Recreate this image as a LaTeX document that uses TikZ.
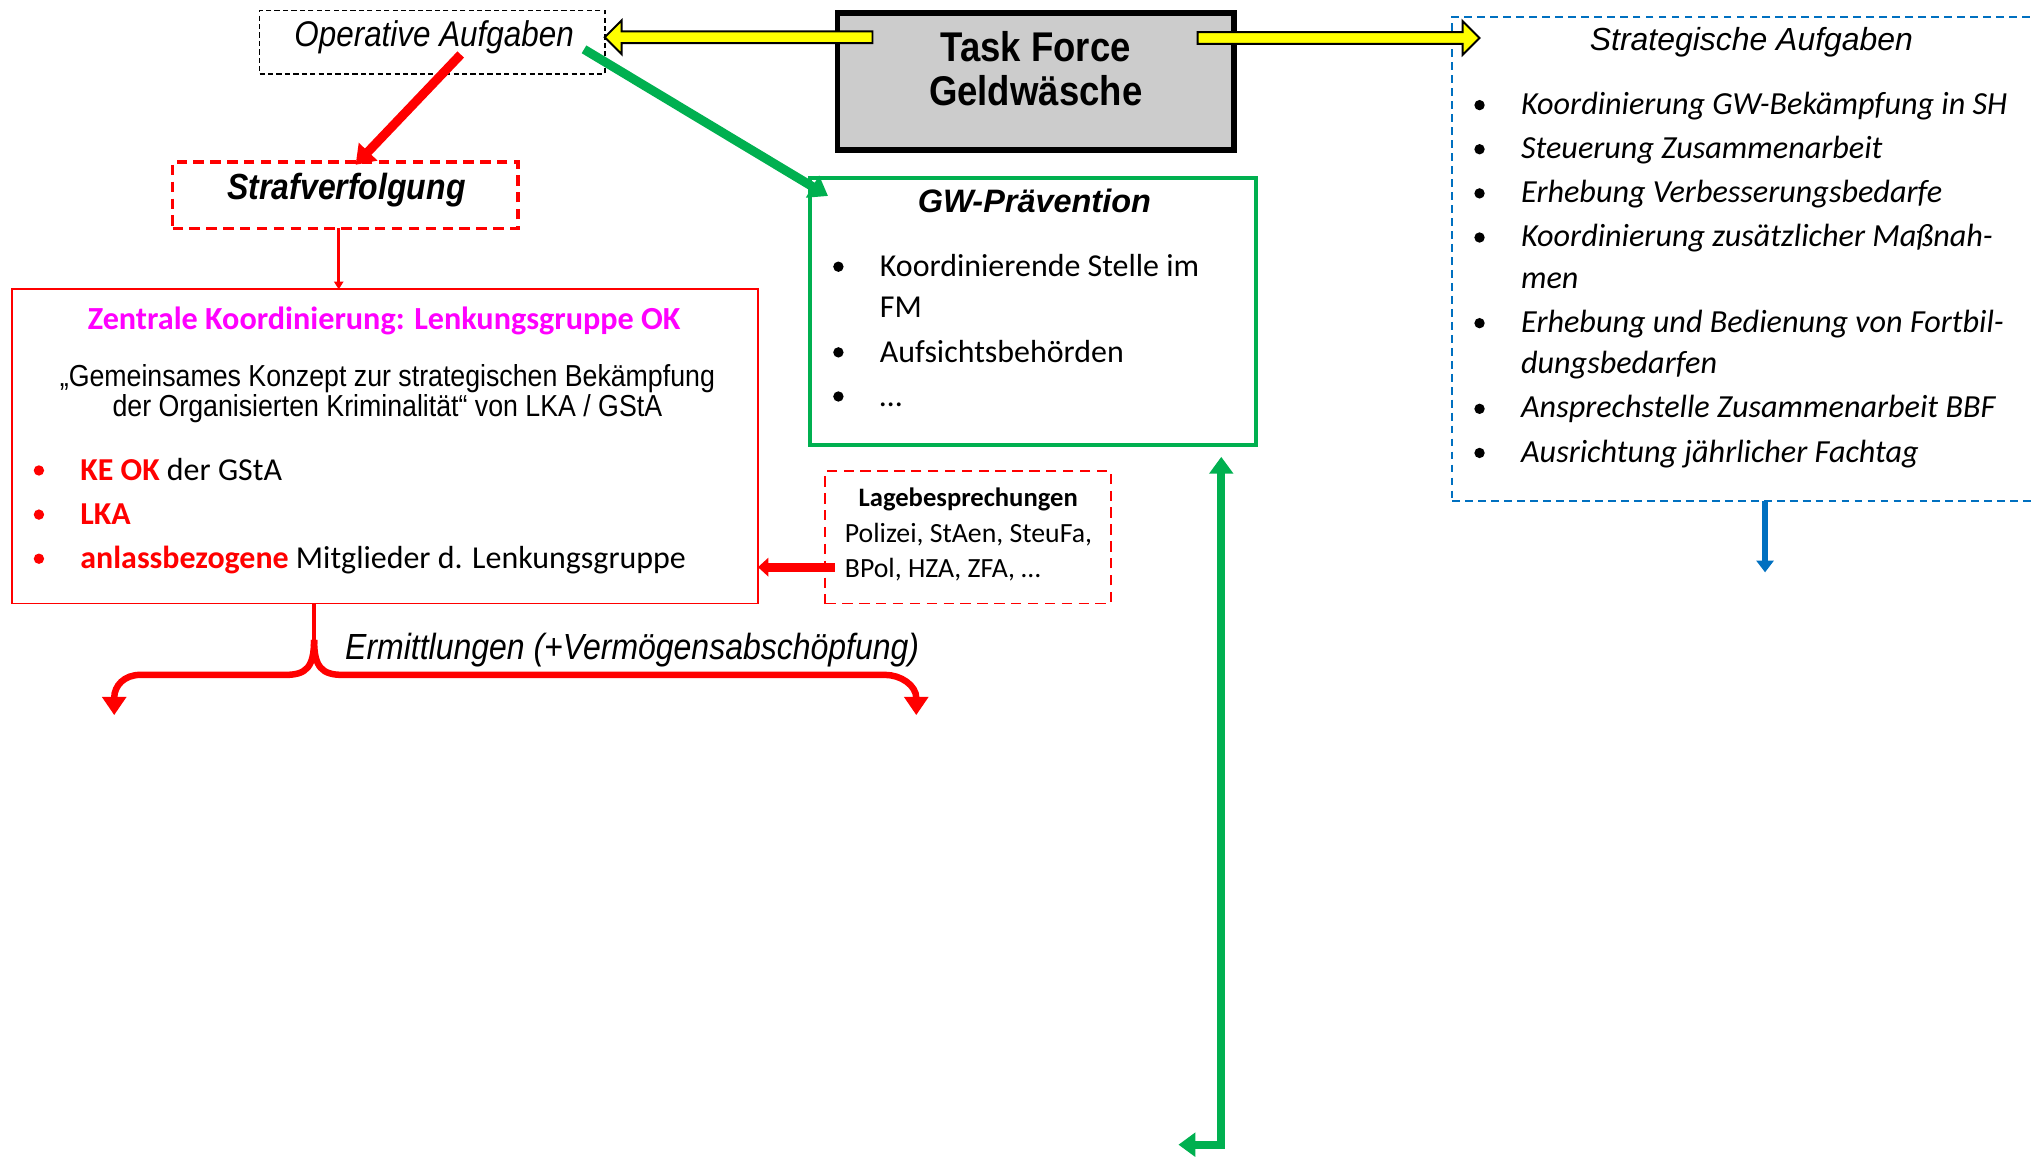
\documentclass[tikz,border=0pt]{standalone}
\usepackage{fontspec}
\setmainfont{Liberation Sans}
\newfontfamily\arialn{Liberation Sans}
\newfontfamily\arialc[FakeStretch=0.88]{Liberation Sans}
\newfontfamily\calib{Carlito}
\usetikzlibrary{arrows.meta,calc}
\definecolor{tfgray}{RGB}{204,204,204}
\definecolor{gwgreen}{RGB}{0,176,80}
\definecolor{stblue}{RGB}{0,112,192}
\definecolor{redc}{RGB}{255,0,0}
\definecolor{magc}{RGB}{255,0,255}
\definecolor{yelc}{RGB}{255,255,0}
\newcommand\fsz[1]{\fontsize{#1}{#1}\selectfont}
\tikzset{
  every node/.style={inner sep=0pt, outer sep=0pt},
  opbox/.style={draw=black, dash pattern=on 4pt off 2.5pt, line width=1.2pt, minimum width=266pt, minimum height=49pt},
  tfbox/.style={draw=black, fill=tfgray, line width=4.5pt, minimum width=305.5pt, minimum height=105.5pt},
  sabox/.style={draw=stblue, dash pattern=on 6pt off 4pt, line width=1.5pt, minimum width=456pt, minimum height=373pt},
  strbox/.style={draw=redc, dash pattern=on 8pt off 5pt, line width=2.8pt, minimum width=266pt, minimum height=51pt},
  gwbox/.style={draw=gwgreen, line width=3pt, minimum width=344pt, minimum height=206pt},
  zkbox/.style={draw=redc, line width=1.5pt, minimum width=575pt, minimum height=242pt},
  lbbox/.style={draw=redc, dash pattern=on 8pt off 5pt, line width=1.5pt, minimum width=220pt, minimum height=102pt},
  yarrow/.style={fill=yelc, draw=black, line width=1.5pt, line join=miter},
  bigred/.style={draw=redc, line width=7pt, -{Triangle[width=19pt,length=14pt]}},
  biggreen/.style={draw=gwgreen, line width=7pt, -{Triangle[width=19pt,length=14pt]}},
  thinred/.style={draw=redc, line width=2.5pt, -{Triangle[width=7pt,length=6pt]}},
  lbarrow/.style={draw=redc, line width=7pt, -{Triangle[width=14pt,length=8pt]}},
  bluearrow/.style={draw=stblue, line width=5pt, -{Triangle[width=13pt,length=9pt]}},
  greendouble/.style={draw=gwgreen, line width=6pt, {Triangle[width=18pt,length=13pt]}-{Triangle[width=18pt,length=13pt]}},
  bracearrow/.style={draw=redc, line width=5pt, -{Triangle[width=18pt,length=14pt]}},
  strlist/.style={anchor=base west, font=\calib\itshape\fsz{24.8}},
  gwlist/.style={anchor=base west, font=\calib\fsz{24.6}},
  zklist/.style={anchor=base west, font=\calib\fsz{24.6}},
}
\begin{document}
\begin{tikzpicture}[x=1pt,y=-1pt]
\useasboundingbox (0,0) rectangle (1568,894);

% boxes
\node[opbox] (op) at (333,32.5) {};
\node[tfbox] (tf) at (798,63) {};
\node[sabox] (sa) at (1347,199.5) {};
\node[strbox] (str) at (266,150.5) {};
\node[gwbox] (gw) at (796,240) {};
\node[zkbox] (zk) at (296.5,344) {};
\node[lbbox] (lb) at (746,414) {};

% box texts
\node[anchor=base, font=\arialc\itshape\fsz{27.5}] (opt) at (334.5,35.5) {Operative Aufgaben};
\node[anchor=base, font=\arialc\bfseries\fsz{32}] (tft1) at (798,47.5) {Task Force};
\node[anchor=base, font=\arialc\bfseries\fsz{32}] (tft2) at (798,81.5) {Geldwäsche};
\node[anchor=base, font=\arialn\itshape\fsz{24.6}] (sat) at (1349.5,39) {Strategische Aufgaben};
\node[anchor=base, font=\arialc\bfseries\itshape\fsz{28}] (strt) at (267,154) {Strafverfolgung};
\node[anchor=base, font=\arialn\bfseries\itshape\fsz{25}] (gwt) at (797,164) {GW-Prävention};
\node[anchor=base, font=\calib\bfseries\fsz{24.8}, text=magc] (zkt) at (296,254) {Zentrale Koordinierung: Lenkungsgruppe OK};
\node[anchor=base, font=\arialc\fsz{23.4}] (zkq1) at (298.5,298) {„Gemeinsames Konzept zur strategischen Bekämpfung};
\node[anchor=base, font=\arialc\fsz{23.4}] (zkq2) at (298.5,321) {der Organisierten Kriminalität“ von LKA / GStA};
\node[anchor=base, font=\calib\bfseries\fsz{20.5}] (lbt) at (746,390) {Lagebesprechungen};
\node[anchor=base west, font=\calib\fsz{21.4}] (lb1) at (651,418) {Polizei, StAen, SteuFa,};
\node[anchor=base west, font=\calib\fsz{21.4}] (lb2) at (651,445) {BPol, HZA, ZFA, …};

% strategic list
\foreach \y/\t [count=\i] in {88/Koordinierung GW-Bekämpfung in SH, 122/Steuerung Zusammenarbeit, 156/Erhebung Verbesserungsbedarfe, 190/Koordinierung zusätzlicher Maßnah-, 222/men, 256/Erhebung und Bedienung von Fortbil-, 288/dungsbedarfen, 322/Ansprechstelle Zusammenarbeit BBF, 356/Ausrichtung jährlicher Fachtag}
  \node[strlist] (sl\i) at (1172,\y) {\t};
\foreach \y in {88,122,156,190,256,322,356}
  \fill[black] (1140,\y-7) circle (4pt);

% GW list
\node[gwlist] (gl1) at (678,213) {Koordinierende Stelle im};
\node[gwlist] (gl2) at (678,245) {FM};
\node[gwlist] (gl3) at (678,279) {Aufsichtsbehörden};
\node[gwlist] (gl4) at (678,313) {…};
\foreach \y in {213,279,313}
  \fill[black] (646,\y-7.5) circle (4pt);

% Zentrale list
\node[zklist] (zl1) at (62,370) {\textcolor{redc}{\bfseries KE OK} der GStA};
\node[zklist] (zl2) at (62,404) {\textcolor{redc}{\bfseries LKA}};
\node[zklist] (zl3) at (62,438) {\textcolor{redc}{\bfseries anlassbezogene} Mitglieder d. Lenkungsgruppe};
\foreach \y in {370,404,438}
  \fill[redc] (30,\y-7.5) circle (4pt);

% yellow block arrows
\coordinate (yla) at ($(tf.north west)+(27,18.5)$);
\coordinate (ylb) at (op.east |- yla);
\draw[yarrow] ($(yla)+(0,-4.5)$) -- ($(ylb)+(13,-4.5)$) -- ($(ylb)+(13,-13)$) -- (ylb) -- ($(ylb)+(13,13)$) -- ($(ylb)+(13,4.5)$) -- ($(yla)+(0,4.5)$) -- cycle;
\coordinate (yra) at ($(tf.north east)+(-28,19)$);
\coordinate (yrb) at ($(sa.west |- yra)+(21,0)$);
\draw[yarrow] ($(yra)+(0,-4.5)$) -- ($(yrb)+(-13,-4.5)$) -- ($(yrb)+(-13,-13)$) -- (yrb) -- ($(yrb)+(-13,13)$) -- ($(yrb)+(-13,4.5)$) -- ($(yra)+(0,4.5)$) -- cycle;

% operative arrows
\draw[bigred] ($(op.south)+(22,-15)$) -- ($(str.north)+(8,2)$);
\draw[biggreen] ($(op.south east)+(-16,-19)$) -- ($(gw.north west)+(14,14)$);

% Strafverfolgung -> Zentrale
\coordinate (sts) at ($(str.south)+(-5,0)$);
\coordinate (zkn) at (sts |- zk.north);
\draw[thinred] (sts) -- (zkn);

% Lagebesprechungen -> Zentrale
\coordinate (lbs) at ($(lb.west)+(7,23)$);
\draw[lbarrow] (lbs) -- (zk.east |- lbs);

% blue arrow
\draw[bluearrow] ($(sa.south)+(13,0)$) -- ($(sa.south)+(13,55)$);

% green double arrow
\coordinate (gda) at ($(gw.south east)+(-27,9)$);
\coordinate (gdb) at (941,882);
\coordinate (gdc) at (908,882);
\draw[greendouble, line join=miter] (gda) -- (gdb) -- (gdc);

% brace
\coordinate (brs) at ($(zk.south)+(-54.5,0)$);
\draw[redc, line width=3pt] (brs) -- ($(brs)+(0,30)$);
\draw[bracearrow] ($(brs)+(0,28)$) .. controls ($(brs)+(0,49)$) and ($(brs)+(-6,55)$) .. ($(brs)+(-22,55)$) -- ($(brs)+(-134,55)$) .. controls ($(brs)+(-146,55)$) and ($(brs)+(-154,63)$) .. ($(brs)+(-154,86)$);
\draw[bracearrow] ($(brs)+(0,28)$) .. controls ($(brs)+(0,49)$) and ($(brs)+(6,55)$) .. ($(brs)+(22,55)$) -- ($(brs)+(440,55)$) .. controls ($(brs)+(452,55)$) and ($(brs)+(464,63)$) .. ($(brs)+(464,86)$);
\node[anchor=base west, font=\arialc\itshape\fsz{28}] (erm) at (266,508) {Ermittlungen (+Vermögensabschöpfung)};
\end{tikzpicture}
\end{document}
